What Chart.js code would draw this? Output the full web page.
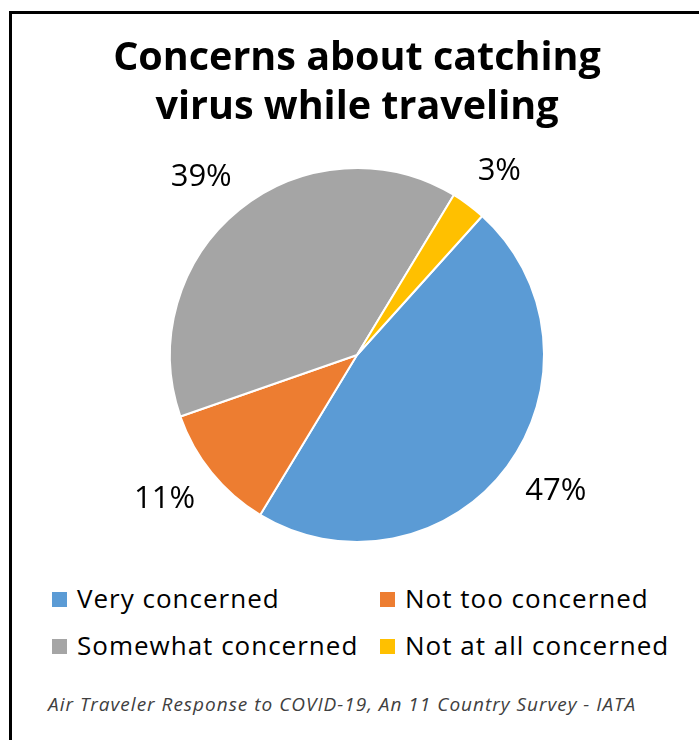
<!DOCTYPE html>
<html>
<head>
<meta charset="utf-8">
<script src="https://cdn.jsdelivr.net/npm/chart.js@4/dist/chart.umd.min.js"></script>
<style>
  html, body { margin: 0; padding: 0; background: #fff; width: 699px; height: 740px; overflow: hidden; }
  #frame { position: absolute; left: 9px; top: 11px; width: 720px; height: 760px; border: 3px solid #000; box-sizing: border-box; }
  #wrap { position: absolute; left: 0; top: 0; width: 699px; height: 560px; }
  .leg { position: absolute; font-family: "Open Sans", Lato, sans-serif; font-size: 26px; letter-spacing: 1px; color: #000; white-space: nowrap; line-height: 1; }
  .leg span.box { display: inline-block; width: 15px; height: 15px; margin-right: 10px; vertical-align: 1px; }
  #src { position: absolute; left: 48px; top: 691px; font-family: "Open Sans", Lato, sans-serif; font-style: italic; font-size: 19px; letter-spacing: 1px; color: #404040; white-space: nowrap; }
</style>
</head>
<body>
<div id="frame"></div>
<div id="wrap"><canvas id="c" width="699" height="560"></canvas></div>
<div id="legend"></div>
<div id="src">Air Traveler Response to COVID-19, An 11 Country Survey - IATA</div>
<script>
const categories = ["Very concerned", "Not too concerned", "Somewhat concerned", "Not at all concerned"];
const values = [47, 11, 39, 3];
const valueLabels = ["47%", "11%", "39%", "3%"];
const colors = ["#5B9BD5", "#ED7D31", "#A5A5A5", "#FFC000"];
const titleLines = ["Concerns about catching", "virus while traveling"];

// HTML legend in two columns
const legendPos = [[52, 585], [380, 585], [52, 632], [380, 632]];
const legendEl = document.getElementById('legend');
categories.forEach((c, i) => {
  const d = document.createElement('div');
  d.className = 'leg';
  d.style.left = legendPos[i][0] + 'px';
  d.style.top = legendPos[i][1] + 'px';
  d.innerHTML = '<span class="box" style="background:' + colors[i] + '"></span>' + c;
  legendEl.appendChild(d);
});

const outsideLabels = {
  id: 'outsideLabels',
  afterDatasetsDraw(chart) {
    const ctx = chart.ctx;
    const meta = chart.getDatasetMeta(0);
    ctx.save();
    ctx.font = '31px "Open Sans", Lato, sans-serif';
    ctx.fillStyle = '#000';
    ctx.textAlign = 'center';
    ctx.textBaseline = 'middle';
    meta.data.forEach((arc, i) => {
      const p = arc.getProps(['x', 'y', 'startAngle', 'endAngle', 'outerRadius']);
      const mid = (p.startAngle + p.endAngle) / 2;
      const dx = Math.cos(mid), dy = Math.sin(mid);
      const w = ctx.measureText(valueLabels[i]).width;
      const h = 24;
      const r = p.outerRadius + 30;
      ctx.fillText(valueLabels[i], p.x + dx * r + dx * w / 2, p.y + dy * r + dy * h / 2);
    });
    ctx.restore();
  }
};

new Chart(document.getElementById('c'), {
  type: 'pie',
  data: {
    labels: categories,
    datasets: [{
      data: values,
      backgroundColor: colors,
      borderColor: '#ffffff',
      borderWidth: 2
    }]
  },
  options: {
    responsive: false,
    animation: false,
    rotation: 42,
    layout: { padding: { top: 0, left: 15, right: 0, bottom: 17 } },
    plugins: {
      legend: { display: false },
      tooltip: { enabled: false },
      title: {
        display: true,
        text: titleLines,
        color: '#000',
        font: { family: '"Open Sans", Lato, sans-serif', size: 39.5, weight: 'bold', lineHeight: 1.24 },
        padding: { top: 34, bottom: 35 }
      }
    }
  },
  plugins: [outsideLabels]
});
</script>
</body>
</html>
